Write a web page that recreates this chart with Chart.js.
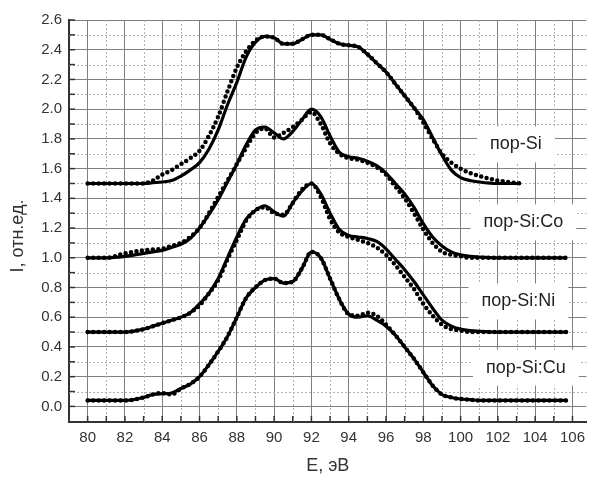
<!DOCTYPE html>
<html>
<head>
<meta charset="utf-8">
<script src="https://cdn.jsdelivr.net/npm/chart.js@4.4.0/dist/chart.umd.min.js"></script>
<style>
  body { margin: 0; background: #fff; }
</style>
</head>
<body>
<canvas id="myChart" width="592" height="477"></canvas>
<script>
// энергия, эВ (общая сетка)
const energy = [80, 81, 82, 83, 83.5, 84, 84.5, 85, 85.5, 86, 86.5, 87, 87.5, 88, 88.5, 89, 89.5, 90, 90.5, 91, 91.5,
    92, 92.5, 93, 93.5, 94, 94.5, 95, 95.5, 96, 96.5, 97, 97.5, 98, 98.5, 99, 99.5, 100, 100.5, 101, 102];
const energySi = energy.concat([103.2]);
const energyLong = energy.concat([104, 105.7]);

// пор-Si
const siFit = [1.5, 1.5, 1.5, 1.5, 1.505, 1.51, 1.52, 1.55, 1.59, 1.64, 1.73, 1.86, 2.03, 2.18, 2.35, 2.45, 2.49, 2.48, 2.44, 2.44, 2.47,
    2.50, 2.50, 2.47, 2.44, 2.43, 2.42, 2.37, 2.31, 2.25, 2.17, 2.09, 2.01, 1.93, 1.81, 1.69, 1.59, 1.54, 1.52, 1.51, 1.5, 1.5];
const siExp = [1.5, 1.5, 1.5, 1.5, 1.52, 1.56, 1.59, 1.63, 1.67, 1.72, 1.82, 1.95, 2.12, 2.28, 2.39, 2.46, 2.49, 2.48, 2.44, 2.44, 2.47,
    2.50, 2.50, 2.47, 2.44, 2.43, 2.42, 2.37, 2.31, 2.25, 2.17, 2.09, 2.01, 1.91, 1.80, 1.70, 1.64, 1.60, 1.57, 1.55, 1.52, 1.5];

// пор-Si:Co
const coFit = [1.0, 1.0, 1.01, 1.03, 1.04, 1.05, 1.07, 1.09, 1.13, 1.2, 1.29, 1.39, 1.51, 1.63, 1.76, 1.86, 1.88, 1.84, 1.80, 1.85, 1.93,
    2.0, 1.95, 1.82, 1.71, 1.68, 1.67, 1.65, 1.62, 1.57, 1.5, 1.43, 1.34, 1.23, 1.14, 1.08, 1.04, 1.02, 1.01, 1.005, 1.0, 1.0, 1.0];
const coExp = [1.0, 1.0, 1.03, 1.05, 1.055, 1.06, 1.08, 1.10, 1.14, 1.2, 1.3, 1.41, 1.52, 1.63, 1.74, 1.84, 1.87, 1.81, 1.84, 1.88, 1.93,
    1.98, 1.9, 1.77, 1.70, 1.67, 1.66, 1.64, 1.61, 1.56, 1.48, 1.40, 1.30, 1.19, 1.10, 1.04, 1.02, 1.01, 1.0, 1.0, 1.0, 1.0, 1.0];

// пор-Si:Ni
const niFit = [0.5, 0.5, 0.5, 0.52, 0.54, 0.56, 0.58, 0.6, 0.63, 0.69, 0.76, 0.86, 1.0, 1.14, 1.26, 1.32, 1.35, 1.31, 1.28, 1.37, 1.45,
    1.5, 1.43, 1.3, 1.19, 1.15, 1.14, 1.13, 1.11, 1.06, 0.99, 0.92, 0.84, 0.75, 0.66, 0.58, 0.54, 0.52, 0.51, 0.505, 0.5, 0.5, 0.5];
const niExp = [0.5, 0.5, 0.5, 0.52, 0.54, 0.56, 0.58, 0.6, 0.63, 0.68, 0.76, 0.85, 0.99, 1.12, 1.25, 1.32, 1.34, 1.30, 1.29, 1.37, 1.46,
    1.5, 1.41, 1.26, 1.17, 1.14, 1.12, 1.1, 1.07, 1.02, 0.95, 0.87, 0.79, 0.69, 0.61, 0.55, 0.52, 0.51, 0.5, 0.5, 0.5, 0.5, 0.5];

// пор-Si:Cu
const cuFit = [0.04, 0.04, 0.04, 0.06, 0.08, 0.085, 0.09, 0.12, 0.15, 0.2, 0.28, 0.37, 0.47, 0.6, 0.73, 0.8, 0.85, 0.86, 0.83, 0.84, 0.93,
    1.04, 1.0, 0.86, 0.72, 0.62, 0.6, 0.61, 0.58, 0.54, 0.48, 0.4, 0.32, 0.23, 0.14, 0.08, 0.06, 0.05, 0.045, 0.04, 0.04, 0.04, 0.04];
const cuExp = [0.04, 0.04, 0.04, 0.06, 0.08, 0.09, 0.08, 0.12, 0.15, 0.2, 0.28, 0.37, 0.47, 0.6, 0.73, 0.8, 0.85, 0.86, 0.83, 0.84, 0.93,
    1.04, 1.0, 0.86, 0.72, 0.62, 0.61, 0.63, 0.61, 0.55, 0.48, 0.4, 0.32, 0.23, 0.14, 0.08, 0.06, 0.05, 0.045, 0.04, 0.04, 0.04, 0.04];

const sampleNames = ['пор-Si', 'пор-Si:Co', 'пор-Si:Ni', 'пор-Si:Cu'];
const xTicks = [80, 82, 84, 86, 88, 90, 92, 94, 96, 98, 100, 102, 104, 106];
const yTicks = [0.0, 0.2, 0.4, 0.6, 0.8, 1.0, 1.2, 1.4, 1.6, 1.8, 2.0, 2.2, 2.4, 2.6];

// где стоят подписи образцов (в координатах графика)
const namePos = [[102.97, 1.763], [103.37, 1.238], [103.1, 0.706], [103.5, 0.261]];

const FONT = '"Liberation Sans", Arial, sans-serif';

function pts(xs, ys) {
    return xs.map((x, i) => ({ x: x, y: ys[i] }));
}

function solid(xs, ys) {
    return {
        data: pts(xs, ys),
        borderColor: '#000',
        borderWidth: 3.2,
        pointRadius: 0,
        cubicInterpolationMode: 'monotone',
        fill: false
    };
}

function dotted(xs, ys) {
    return {
        data: pts(xs, ys),
        borderColor: '#000',
        borderWidth: 4.5,
        borderDash: [0, 5.5],
        borderCapStyle: 'round',
        pointRadius: 0,
        cubicInterpolationMode: 'monotone',
        fill: false
    };
}

const decor = {
    id: 'decor',
    beforeDatasetsDraw(chart) {
        const ctx = chart.ctx;
        const area = chart.chartArea;
        const sx = chart.scales.x;
        const sy = chart.scales.y;
        ctx.save();

        // мелкая пунктирная сетка
        ctx.strokeStyle = '#b0b0b0';
        ctx.lineWidth = 1;
        ctx.setLineDash([2, 2]);
        for (let i = 0; i < xTicks.length; i++) {
            const px = Math.round(sx.getPixelForValue(xTicks[i] + 1)) + 0.5;
            if (px >= area.right) continue;
            ctx.beginPath();
            ctx.moveTo(px, area.top);
            ctx.lineTo(px, area.bottom);
            ctx.stroke();
        }
        for (let i = 0; i < yTicks.length - 1; i++) {
            const py = Math.round(sy.getPixelForValue(yTicks[i] + 0.1)) + 0.5;
            ctx.beginPath();
            ctx.moveTo(area.left, py);
            ctx.lineTo(area.right, py);
            ctx.stroke();
        }
        ctx.setLineDash([]);

        // внутренние засечки
        ctx.strokeStyle = '#333';
        ctx.lineWidth = 1.5;
        for (let i = 0; i < xTicks.length; i++) {
            [xTicks[i], xTicks[i] + 1].forEach(v => {
                const px = sx.getPixelForValue(v);
                if (px >= area.right) return;
                ctx.beginPath();
                ctx.moveTo(px, area.bottom);
                ctx.lineTo(px, area.bottom - 6);
                ctx.stroke();
            });
        }
        for (let i = 0; i < yTicks.length; i++) {
            [yTicks[i], yTicks[i] + 0.1].forEach(v => {
                if (v > 2.6) return;
                const py = sy.getPixelForValue(v);
                ctx.beginPath();
                ctx.moveTo(area.left, py);
                ctx.lineTo(area.left + 6, py);
                ctx.stroke();
            });
        }

        // подписи образцов на белом фоне
        ctx.font = '18px ' + FONT;
        ctx.textAlign = 'center';
        ctx.textBaseline = 'middle';
        sampleNames.forEach((name, i) => {
            const cx = sx.getPixelForValue(namePos[i][0]);
            const cy = sy.getPixelForValue(namePos[i][1]);
            const w = ctx.measureText(name).width + 26;
            ctx.fillStyle = '#fff';
            ctx.fillRect(cx - w / 2, cy - 18, w, 36);
            ctx.fillStyle = '#222';
            ctx.fillText(name, cx, cy);
        });
        ctx.restore();
    }
};

const ctx = document.getElementById('myChart').getContext('2d');
const myChart = new Chart(ctx, {
    type: 'line',
    data: {
        datasets: [
            dotted(energySi, siExp), solid(energySi, siFit),
            dotted(energyLong, coExp), solid(energyLong, coFit),
            dotted(energyLong, niExp), solid(energyLong, niFit),
            dotted(energyLong, cuExp), solid(energyLong, cuFit)
        ]
    },
    options: {
        responsive: false,
        devicePixelRatio: 1,
        animation: false,
        layout: { padding: { top: 20, right: 0, left: 0, bottom: 0 } },
        plugins: {
            legend: { display: false },
            tooltip: { enabled: false }
        },
        scales: {
            x: {
                type: 'linear',
                min: 79,
                max: 106.75,
                afterBuildTicks: s => { s.ticks = xTicks.map(v => ({ value: v })); },
                afterFit: s => { s.height = 55; },
                grid: { color: '#7f7f7f', lineWidth: 1, drawTicks: false },
                border: { color: '#333', width: 2 },
                ticks: {
                    padding: 7,
                    color: '#333',
                    font: { family: FONT, size: 15 },
                    callback: v => String(v)
                },
                title: {
                    display: true,
                    text: 'E, эВ',
                    color: '#333',
                    font: { family: FONT, size: 18 },
                    padding: { top: 0, bottom: 0 }
                }
            },
            y: {
                type: 'linear',
                min: -0.105,
                max: 2.6,
                afterBuildTicks: s => { s.ticks = yTicks.map(v => ({ value: v })); },
                afterFit: s => { s.width = 69; },
                grid: { color: '#7f7f7f', lineWidth: 1, drawTicks: false },
                border: { color: '#333', width: 2 },
                ticks: {
                    padding: 7,
                    color: '#333',
                    font: { family: FONT, size: 15 },
                    callback: v => v.toFixed(1)
                },
                title: {
                    display: true,
                    text: 'I, отн.ед.      ',
                    color: '#333',
                    font: { family: FONT, size: 18 },
                    padding: { top: 7, bottom: 0 }
                }
            }
        }
    },
    plugins: [decor]
});
</script>
</body>
</html>
